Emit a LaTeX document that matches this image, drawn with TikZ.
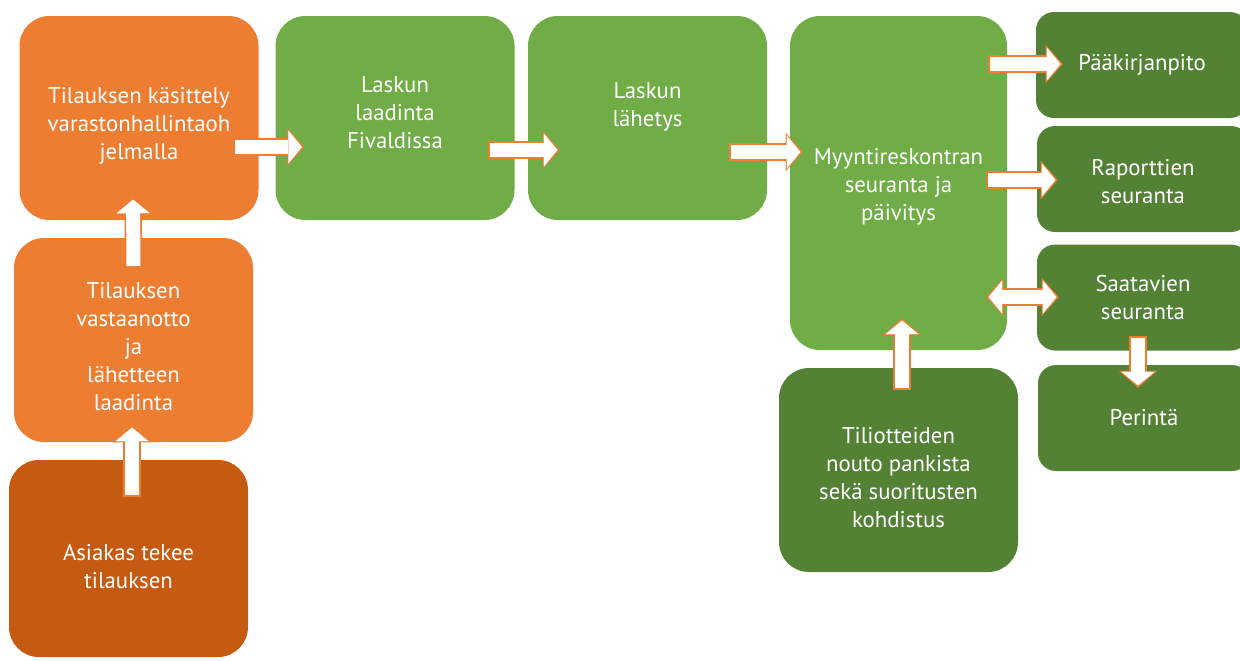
\documentclass[tikz,border=0pt]{standalone}
\usepackage{fontspec}
\setmainfont{PT Sans}
\usetikzlibrary{arrows.meta,calc}
\definecolor{oranssi}{HTML}{ED7D31}
\definecolor{tummaoranssi}{HTML}{C55A11}
\definecolor{vihrea}{HTML}{70AD47}
\definecolor{tummavihrea}{HTML}{548235}
\begin{document}
\begin{tikzpicture}[
  x=0.5pt, y=-0.5pt,
  box/.style={rounded corners=15pt, text=white, align=center, inner sep=0pt,
    font=\fontsize{11.4}{14}\selectfont},
  obox/.style={box, fill=oranssi, minimum width=119.5pt, minimum height=102pt},
  gbox/.style={box, fill=vihrea, minimum width=119.5pt, minimum height=102pt},
  dbox/.style={box, fill=tummavihrea, minimum width=119.5pt, minimum height=102pt},
  sbox/.style={box, fill=tummavihrea, rounded corners=9pt, minimum width=106pt, minimum height=53pt},
  barrow/.style={draw=white, line width=7pt, shorten >=1.1pt, shorten <=0.8pt,
    -{Triangle[length=6.8pt,width=16.5pt,line width=0.01pt]},
    preaction={draw=oranssi, line width=8.6pt, shorten >=0pt, shorten <=0pt,
      -{Triangle[length=8.4pt,width=19pt,line width=0.01pt]}}},
  dbarrow/.style={draw=white, line width=7pt, shorten >=1.1pt, shorten <=1.1pt,
    {Triangle[length=6.8pt,width=16.5pt,line width=0.01pt]}-{Triangle[length=6.8pt,width=16.5pt,line width=0.01pt]},
    preaction={draw=oranssi, line width=8.6pt, shorten >=0pt, shorten <=0pt,
      {Triangle[length=8.4pt,width=19pt,line width=0.01pt]}-{Triangle[length=8.4pt,width=19pt,line width=0.01pt]}}}
]
  \useasboundingbox (0,0) rectangle (1240,660);
  \clip (0,0) rectangle (1240,660);

  % --- Tilausketju (oranssi) ---
  \node[obox, text height=44pt] (kasittely) at (139,118) {Tilauksen käsittely\\varastonhallintaoh\\jelmalla};
  \node[obox, text height=71pt] (vastaanotto) at (133.5,340) {Tilauksen\\vastaanotto\\ja\\lähetteen\\laadinta};
  \node[obox, fill=tummaoranssi, minimum height=98.5pt, text height=30.5pt] (asiakas) at (128.5,558.5) {Asiakas tekee\\tilauksen};

  % --- Laskutus (vihreä) ---
  \node[gbox, text depth=5pt] (laadinta) at (395,118) {Laskun\\laadinta\\Fivaldissa};
  \node[gbox, text depth=13.5pt] (lahetys) at (647.5,118) {Laskun\\lähetys};
  \node[gbox, minimum width=108.5pt, minimum height=167pt, text height=40pt] (reskontra) at (898.5,183) {Myyntireskontran\\seuranta ja\\päivitys};
  \node[dbox, text height=58pt] (tiliotteet) at (898.5,470) {Tiliotteiden\\nouto pankista\\sekä suoritusten\\kohdistus};

  % --- Jatkotoimet (tummanvihreä) ---
  \node[sbox] (paakirja) at (1142,65) {Pääkirjanpito};
  \node[sbox, text height=25pt] (raportit) at (1143,179) {Raporttien\\seuranta};
  \node[sbox] (saatavat) at (1143,297.5) {Saatavien\\seuranta};
  \node[sbox] (perinta) at (1144,418) {Perintä};

  % --- Nuolet ---
  \draw[barrow] ($(asiakas.north)+(3.5,37)$) -- ($(vastaanotto.south)+(-1.5,-17)$);
  \draw[barrow] ($(vastaanotto.north)+(0,30)$) -- ($(kasittely.south)+(-6,-23)$);
  \draw[barrow] ($(kasittely.east)+(-26,29)$) -- ($(laadinta.west)+(29,29)$);
  \draw[barrow] ($(laadinta.east)+(-27,32)$) -- ($(lahetys.west)+(32,32)$);
  \draw[barrow] ($(lahetys.east)+(-38,34)$) -- ($(reskontra.west)+(13,-31)$);
  \draw[barrow] ($(reskontra.east)+(-19,-119)$) -- ($(paakirja.west)+(27,-1)$);
  \draw[barrow] ($(reskontra.east)+(-21,-3)$) -- ($(raportit.west)+(21,1)$);
  \draw[dbarrow] ($(reskontra.east)+(-21,114)$) -- ($(saatavat.west)+(22,-0.5)$);
  \draw[barrow] ($(saatavat.south)+(-5,-15)$) -- ($(perinta.north)+(-6,23)$);
  \draw[barrow] ($(tiliotteet.north)+(3.5,22)$) -- ($(reskontra.south)+(3.5,-32)$);
\end{tikzpicture}
\end{document}
